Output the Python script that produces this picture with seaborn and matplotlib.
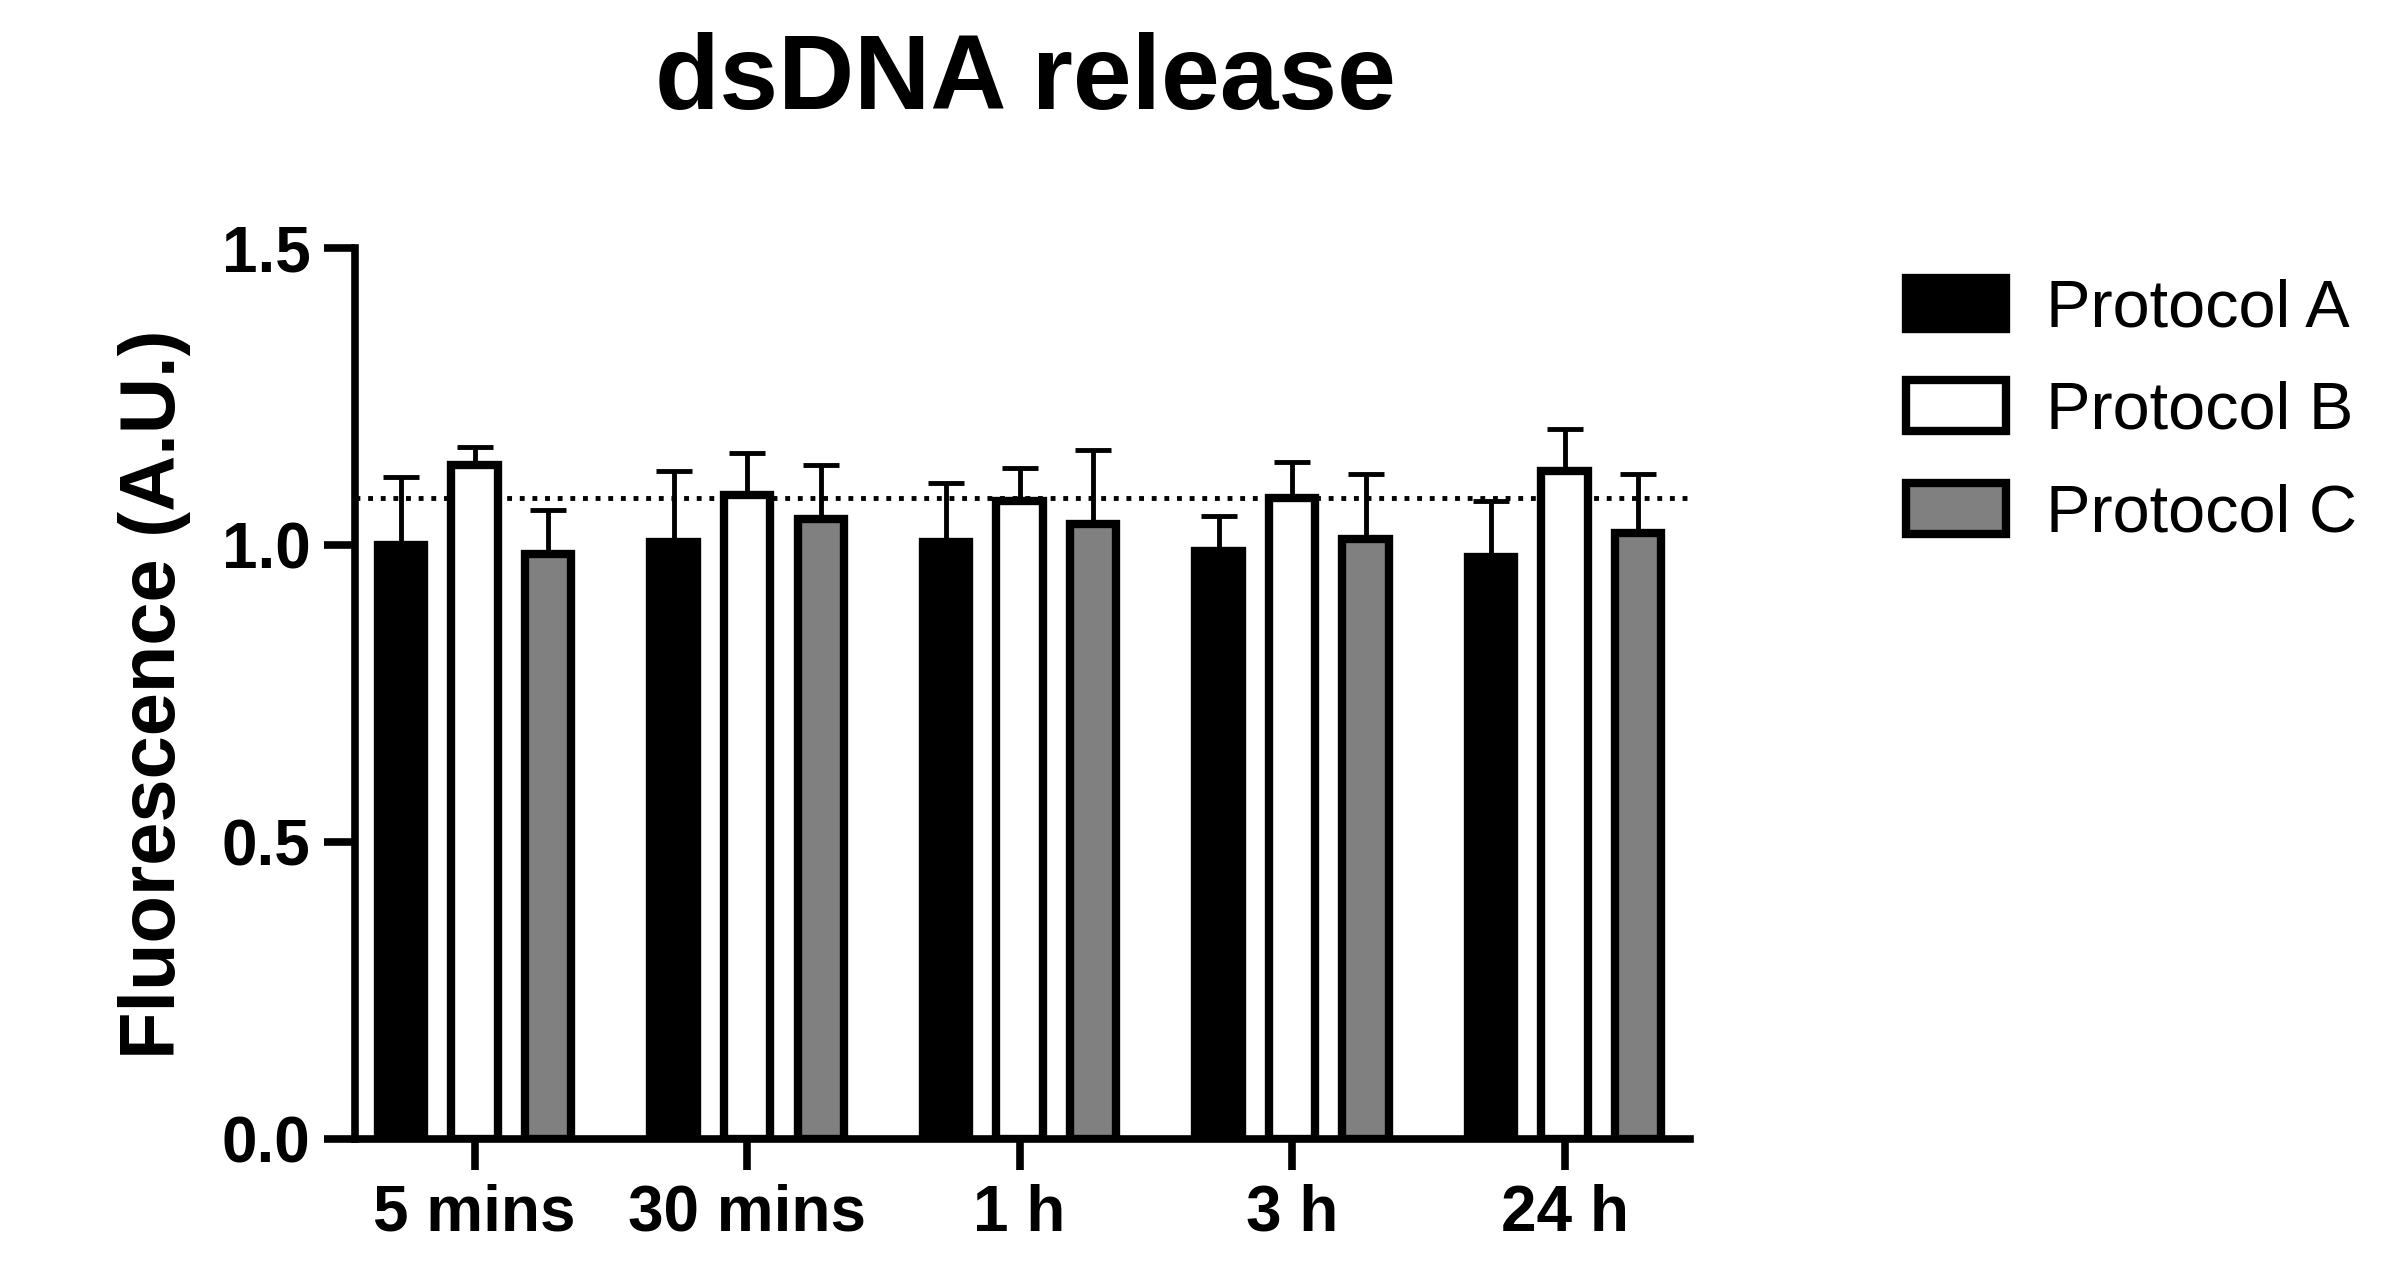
import matplotlib
matplotlib.use("Agg")
from matplotlib import pyplot as plt
import seaborn as sns
import pandas as pd

times = ['5 mins', '30 mins', '1 h', '3 h', '24 h']
protocols = ['Protocol A', 'Protocol B', 'Protocol C']
mean_a = [1.00, 1.005, 1.005, 0.99, 0.98]
mean_b = [1.135, 1.085, 1.075, 1.08, 1.125]
mean_c = [0.985, 1.045, 1.035, 1.01, 1.02]
top_a = [1.115, 1.125, 1.105, 1.05, 1.075]
top_b = [1.165, 1.155, 1.13, 1.14, 1.195]
top_c = [1.06, 1.135, 1.16, 1.12, 1.12]
ref_line = 1.08

rows = []
for p, means, tops in zip(protocols, [mean_a, mean_b, mean_c], [top_a, top_b, top_c]):
    for t, m, u in zip(times, means, tops):
        rows.append({'Time': t, 'Protocol': p, 'Fluorescence': m, 'Top': u})
df = pd.DataFrame(rows)

sns.set_style("ticks")
plt.rcParams['font.family'] = ['Liberation Sans', 'DejaVu Sans']
plt.rcParams['text.color'] = 'black'
plt.rcParams['axes.labelcolor'] = 'black'
plt.rcParams['xtick.color'] = 'black'
plt.rcParams['ytick.color'] = 'black'
plt.rcParams['axes.edgecolor'] = 'black'

fig = plt.figure(figsize=(23.97, 12.8), dpi=100)
ax = fig.add_axes([0.148, 0.110, 0.557, 0.696])

colors = {'Protocol A': 'black', 'Protocol B': 'white', 'Protocol C': '#808080'}
sns.barplot(data=df, x='Time', y='Fluorescence', hue='Protocol', order=times,
            hue_order=protocols, palette=colors, width=0.81, errorbar=None,
            edgecolor='black', linewidth=6, ax=ax, legend=True)

# narrow the bars and add upper-only error bars
bw = 0.17
for i, p in enumerate(protocols):
    cont = ax.containers[i]
    sub = df[df['Protocol'] == p].set_index('Time').loc[times]
    for patch, (_, r) in zip(cont.patches, sub.iterrows()):
        cx = patch.get_x() + patch.get_width() / 2
        patch.set_x(cx - bw / 2)
        patch.set_width(bw)
        ax.errorbar(cx, r['Fluorescence'], yerr=[[0], [r['Top'] - r['Fluorescence']]],
                    color='black', capsize=13, capthick=3.5, elinewidth=3.5, zorder=1)

ax.axhline(ref_line, color='black', linestyle=(0, (1, 1.6)), linewidth=3.5, zorder=0)

ax.set_ylim(0, 1.5)
ax.set_xlim(-0.44, 4.46)
ax.set_yticks([0.0, 0.5, 1.0, 1.5])
ax.set_yticklabels(['0.0', '0.5', '1.0', '1.5'])
ax.tick_params(axis='both', width=5.5, length=22, labelsize=46, pad=10)
for lab in ax.get_xticklabels() + ax.get_yticklabels():
    lab.set_fontweight('bold')
ax.set_xlabel('')
ax.set_ylabel('Fluorescence (A.U.)', fontsize=56, fontweight='bold', labelpad=22)
sns.despine(ax=ax)
for s in ['left', 'bottom']:
    ax.spines[s].set_linewidth(5.5)

fig.suptitle('dsDNA release', fontsize=76, fontweight='bold', x=0.428, y=0.975)

handles, labels = ax.get_legend_handles_labels()
ax.legend(handles, labels, loc='upper left', bbox_to_anchor=(0.77, 0.83),
          bbox_transform=fig.transFigure, frameon=False, fontsize=48,
          handlelength=1.5, handleheight=0.8, labelspacing=0.6, handletextpad=0.6)

fig.savefig('out.png', dpi=100)
